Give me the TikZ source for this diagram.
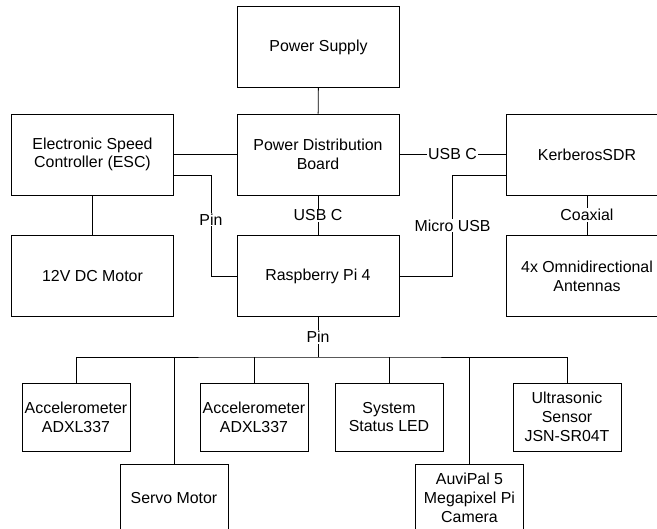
\documentclass[tikz,border=0pt]{standalone}
\usepackage{fontspec}
\setmainfont{Liberation Sans}
\usetikzlibrary{positioning}

\tikzset{
  blk/.style={draw, line width=.9pt, inner sep=0pt, align=center,
    minimum width=162pt, minimum height=81pt, font=\fontsize{15.9}{18.7}\selectfont},
  sblk/.style={blk, minimum width=108pt, minimum height=68pt},
  lbl/.style={fill=white, inner sep=1pt, font=\fontsize{15.9}{18.7}\selectfont},
  wire/.style={line width=.9pt}
}

\begin{document}
\begin{tikzpicture}[x=1pt, y=-1pt]
    \clip (0,0) rectangle (657,529);

    % upper part
    \node[blk] (ps)    at (318.5,47)  {Power Supply};
    \node[blk] (pdb)   at (318,154.5) {Power Distribution\\Board};
    \node[blk] (esc)   at (92.5,154.5) {Electronic Speed\\Controller (ESC)};
    \node[blk] (motor) at (92.5,276)  {12V DC Motor};
    \node[blk] (rpi)   at (318,276)   {Raspberry Pi 4};
    \node[blk] (sdr)   at (587,154.5) {KerberosSDR};
    \node[blk] (ant)   at (587,276)   {4x Omnidirectional\\Antennas};

    % lower part
    \node[sblk] (acc1)  at (76,417)    {Accelerometer\\ADXL337};
    \node[sblk] (servo) at (174,498)   {Servo Motor};
    \node[sblk] (acc2)  at (254,417)   {Accelerometer\\ADXL337};
    \node[sblk] (led)   at (389,417)   {System\\Status LED};
    \node[sblk] (cam)   at (469.5,498) {AuviPal 5\\Megapixel Pi\\Camera};
    \node[sblk] (ultra) at (567,417)   {Ultrasonic\\Sensor\\JSN-SR04T};

    \draw[wire] (ps) -- (pdb);
    \draw[wire] (esc) -- (pdb);
    \draw[wire] (esc) -- (motor);
    \draw[wire] (pdb) -- node[lbl]{USB C} (rpi);
    \draw[wire] (pdb) -- node[lbl]{USB C} (sdr);
    \draw[wire] (sdr) -- node[lbl]{Coaxial} (ant);
    \draw[wire] ([yshift=-20.5pt]esc.east) -- ++(37,0) |- node[lbl, pos=.22]{Pin} (rpi.west);
    \draw[wire] ([yshift=-20.5pt]sdr.west) -- ++(-53,0) |- node[lbl, pos=.25]{Micro USB} (rpi.east);

    % pin bus
    \coordinate (bus) at (318,357);
    \draw[wire] (rpi) -- node[lbl]{Pin} (bus);
    \draw[wire] (acc1) |- (bus) -| (ultra);
    \foreach \n in {servo, acc2, led, cam}
        \draw[wire] (\n) -- (\n |- bus);
\end{tikzpicture}
\end{document}
